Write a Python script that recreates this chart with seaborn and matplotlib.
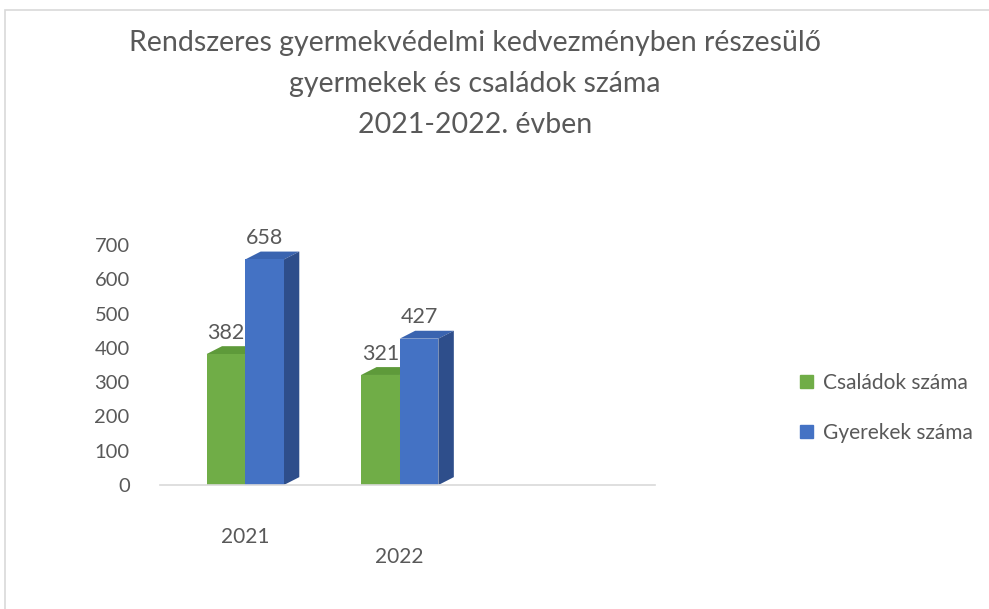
import numpy as np
import pandas as pd
import matplotlib.pyplot as plt
import matplotlib.patches as mpatches
import matplotlib.transforms as mtransforms
import seaborn as sns

# data
years = ["2021", "2022"]
series = ["Családok száma", "Gyerekek száma"]
csaladok = [382, 321]
gyerekek = [658, 427]

front_colors = ["#70AD47", "#4472C4"]
top_colors = ["#5E9A3A", "#3A64B0"]
side_colors = ["#507E33", "#2E4E8B"]
text_grey = "#595959"

df = pd.DataFrame({
    "ev": years * 2,
    "sorozat": [series[0]] * 2 + [series[1]] * 2,
    "ertek": csaladok + gyerekek,
})

sns.set_theme(style="white")
plt.rcParams["font.family"] = ["Lato", "DejaVu Sans"]

fig = plt.figure(figsize=(9.89, 6.09), dpi=100)
ax = fig.add_axes([0.162, 0.2036, 0.5, 0.394])

sns.barplot(data=df, x="ev", y="ertek", hue="sorozat", order=years,
            hue_order=series, palette=front_colors, width=0.5,
            saturation=1, ax=ax, legend=False, zorder=2, linewidth=0)

# fake 3D depth: top and right faces derived from each bar
dx, dy = 0.10, 23
for cont, top_c, side_c in zip(ax.containers, top_colors, side_colors):
    for bar in cont:
        x0, w, h = bar.get_x(), bar.get_width(), bar.get_height()
        x1 = x0 + w
        top = mpatches.Polygon([(x0, h), (x1, h), (x1 + dx, h + dy), (x0 + dx, h + dy)],
                               closed=True, facecolor=top_c, edgecolor="none",
                               zorder=1.5, clip_on=False)
        side = mpatches.Polygon([(x1, 0), (x1 + dx, dy), (x1 + dx, h + dy), (x1, h)],
                                closed=True, facecolor=side_c, edgecolor="none",
                                zorder=1.5, clip_on=False)
        ax.add_patch(top)
        ax.add_patch(side)
        ax.text(x0 + w / 2, h + dy + 10, f"{int(h)}", ha="center", va="bottom",
                fontsize=15.5, color=text_grey)

ax.set_xlim(-0.55, 2.65)
ax.set_ylim(0, 700)
ax.set_yticks(range(0, 701, 100))
ax.set_xlabel("")
ax.set_ylabel("")
ax.tick_params(axis="y", labelsize=14.5, colors=text_grey, pad=22, length=0)
ax.tick_params(axis="x", labelsize=15, colors=text_grey, pad=30, length=0)
# the 2022 label sits lower in the tilted original
lbl = ax.get_xticklabels()[1]
lbl.set_transform(lbl.get_transform() + mtransforms.ScaledTranslation(0, -0.2, fig.dpi_scale_trans))
for s in ["top", "right", "left"]:
    ax.spines[s].set_visible(False)
ax.spines["bottom"].set_color("#D9D9D9")
ax.spines["bottom"].set_linewidth(1.2)

fig.text(0.48, 0.95, "Rendszeres gyermekvédelmi kedvezményben részesülő\n"
         "gyermekek és családok száma\n2021-2022. évben",
         ha="center", va="top", fontsize=20.5, color=text_grey, linespacing=1.7)

handles = [mpatches.Patch(color=c, label=l) for c, l in zip(front_colors, series)]
fig.legend(handles=handles, loc="center left", bbox_to_anchor=(0.79, 0.33),
           frameon=False, fontsize=15, labelcolor=text_grey, labelspacing=1.45,
           handlelength=0.6, handleheight=0.6, handletextpad=0.5)

# chart area frame
frame = mpatches.Rectangle((0.005, -0.01), 1.1, 0.994, transform=fig.transFigure,
                           fill=False, edgecolor="#D9D9D9", linewidth=1.2)
fig.add_artist(frame)

fig.savefig("out.png", dpi=100, facecolor="white")
